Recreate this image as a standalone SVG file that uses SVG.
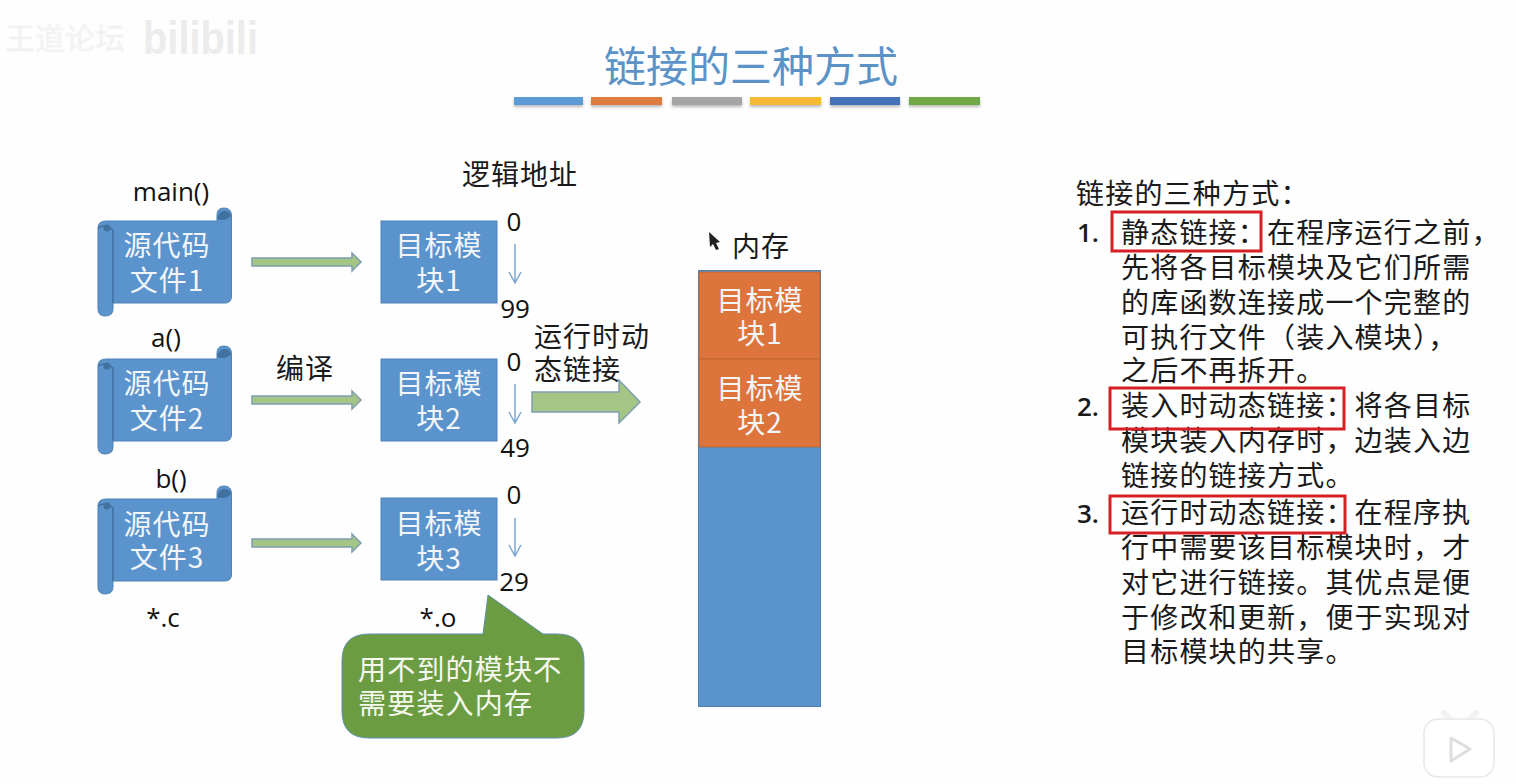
<svg xmlns="http://www.w3.org/2000/svg" xmlns:xlink="http://www.w3.org/1999/xlink" width="1516" height="784" viewBox="0 0 1516 784">
<style>
text{font-family:"Noto Sans CJK SC","Liberation Sans",sans-serif}
.b{font-size:28px;letter-spacing:1px;fill:#1a1a1a}
.w{font-size:28px;letter-spacing:1px;fill:#f2f6fa;text-anchor:middle}
.l{font-family:"Open Sans","Noto Sans CJK SC",sans-serif;font-size:26px;fill:#111;text-anchor:middle}
.r{font-size:28px;letter-spacing:1.200px;fill:#1a1a1a}
.n{font-family:"Open Sans",sans-serif;font-size:26px;font-weight:600;fill:#1a1a1a;text-anchor:middle}
.blue{fill:#5b93cc;stroke:#4d82b5;stroke-width:1}
.ga{fill:#a5c585;stroke:#7f9fb0;stroke-width:1.5}
.box{fill:none;stroke:#d81f26;stroke-width:3}
.thin{stroke:#7ba6d2;stroke-width:1.5;fill:none}
.bar{filter:url(#sh)}
</style>
<defs>
<filter id="sh" x="-10%" y="-50%" width="120%" height="220%"><feDropShadow dx="0" dy="2" stdDeviation="1.500" flood-color="#888" flood-opacity=".6"/></filter>
<g id="scroll">
<path class="blue" d="M98 228Q98 221 106 221H217V215Q217 208 224 208Q231.500 208 231.500 216V296Q231.500 303 225 303H113V309Q113 316 105 316Q98 316 98 309Z"/>
<path d="M217 219Q226 222 231 216Q230 211 224 211Q219 211 217 219Z" fill="#40719f"/>
<path d="M98 228Q106 223 113 230V303" fill="none" stroke="#40719f" stroke-width="1.5"/>
<circle cx="107" cy="228" r="3.500" fill="#40719f"/>
</g>
<path id="ga" class="ga" d="M0 -4H100V-9L109 0L100 9V4H0Z"/>
</defs>
<rect width="1516" height="784" fill="#fefefe"/>
<g id="watermark">
<text x="5" y="49" font-size="30" fill="#f0f0f0" stroke="#f6f6f6">王道论坛</text>
<text x="143" y="54" font-size="46" font-weight="700" fill="#ececec" textLength="115" lengthAdjust="spacingAndGlyphs" style="font-family:'Liberation Sans',sans-serif">bilibili</text>
</g>
<g id="title">
<text x="751" y="82" text-anchor="middle" font-size="42" fill="#5b93c8">链接的三种方式</text>
<rect class="bar" x="514" y="97" width="69" height="8" fill="#5b9bd5"/>
<rect class="bar" x="591" y="97" width="71" height="8" fill="#dd7b3c"/>
<rect class="bar" x="672" y="97" width="70" height="8" fill="#a5a5a5"/>
<rect class="bar" x="750" y="97" width="71" height="8" fill="#f5b935"/>
<rect class="bar" x="830" y="97" width="70" height="8" fill="#4472b8"/>
<rect class="bar" x="909" y="97" width="71" height="8" fill="#70a845"/>
</g>
<g id="connectors">
<use xlink:href="#ga" href="#ga" transform="translate(252,262)"/>
<use xlink:href="#ga" href="#ga" transform="translate(252,400)"/>
<use xlink:href="#ga" href="#ga" transform="translate(252,543)"/>
<path class="ga" d="M532 392H619V380L640 402L619 423V412H532Z"/>
<g id="addr-arrows">
<path class="thin" d="M515 244V283M509 272L515 283L521 272"/>
<path class="thin" d="M515 384V423M509 412L515 423L521 412"/>
<path class="thin" d="M515 518V556M509 545L515 556L521 545"/>
</g>
</g>
<g id="src1"><use xlink:href="#scroll" href="#scroll"/><text class="w" x="167" y="256">源代码</text><text class="w" x="167" y="291">文件1</text></g>
<g id="src2"><use xlink:href="#scroll" href="#scroll" y="138"/><text class="w" x="167" y="394">源代码</text><text class="w" x="167" y="429">文件2</text></g>
<g id="src3"><use xlink:href="#scroll" href="#scroll" y="278"/><text class="w" x="167" y="535">源代码</text><text class="w" x="167" y="568">文件3</text></g>
<g id="obj1"><rect class="blue" x="381" y="221" width="116" height="82"/><text class="w" x="439" y="256">目标模</text><text class="w" x="439" y="291">块1</text></g>
<g id="obj2"><rect class="blue" x="381" y="359" width="116" height="82"/><text class="w" x="439" y="394">目标模</text><text class="w" x="439" y="429">块2</text></g>
<g id="obj3"><rect class="blue" x="381" y="498" width="116" height="82"/><text class="w" x="439" y="534">目标模</text><text class="w" x="439" y="569">块3</text></g>
<g id="labels">
<text class="l" x="171" y="201">main()</text>
<text class="l" x="166" y="347">a()</text>
<text class="l" x="171" y="488">b()</text>
<text class="l" x="163" y="627">*.c</text>
<text class="l" x="438" y="627">*.o</text>
<text class="b" x="462" y="185">逻辑地址</text>
<text class="b" x="276" y="379">编译</text>
<text class="b" x="534" y="347">运行时动</text>
<text class="b" x="534" y="380">态链接</text>
<text class="b" x="732" y="257">内存</text>
<text class="l" x="514" y="231">0</text><text class="l" x="515" y="318">99</text>
<text class="l" x="514" y="371">0</text><text class="l" x="515" y="457">49</text>
<text class="l" x="514" y="504">0</text><text class="l" x="514" y="591">29</text>
</g>
<g id="cursor"><path d="M709 232L710 247L713 244L716 250L719 249L716 243L720 242Z" fill="#222"/></g>
<g id="memory">
<rect x="698.500" y="270.500" width="122" height="436" fill="#5b93cc" stroke="#4d82b5"/>
<rect x="699" y="272" width="121" height="87" fill="#dd743b" stroke="#b9622f" stroke-width=".8"/>
<rect x="699" y="359" width="121" height="88" fill="#dd743b" stroke="#b9622f" stroke-width=".8"/>
<text class="w" x="760" y="311">目标模</text><text class="w" x="760" y="344">块1</text>
<text class="w" x="760" y="399">目标模</text><text class="w" x="760" y="433">块2</text>
</g>
<g id="callout">
<path d="M369 634H483L488 595L543 634H557Q584 634 584 661V711Q584 738 557 738H369Q342 738 342 711V661Q342 634 369 634Z" fill="#6c9c42" stroke="#5f8fb0" stroke-width="1"/>
<text x="358" y="680" font-size="28" letter-spacing="1.200" fill="#f4f8ee">用不到的模块不</text>
<text x="358" y="714" font-size="28" letter-spacing="1.200" fill="#f4f8ee">需要装入内存</text>
</g>
<g id="notes">
<text class="r" x="1076" y="204">链接的三种方式：</text>
<text class="n" x="1088" y="242">1.</text>
<text class="r" x="1121" y="243">静态链接：在程序运行之前，</text>
<text class="r" x="1121" y="278">先将各目标模块及它们所需</text>
<text class="r" x="1121" y="313">的库函数连接成一个完整的</text>
<text class="r" x="1121" y="348">可执行文件（装入模块），</text>
<text class="r" x="1121" y="381">之后不再拆开。</text>
<text class="n" x="1088" y="416">2.</text>
<text class="r" x="1121" y="416">装入时动态链接：将各目标</text>
<text class="r" x="1121" y="451">模块装入内存时，边装入边</text>
<text class="r" x="1121" y="486">链接的链接方式。</text>
<text class="n" x="1088" y="523">3.</text>
<text class="r" x="1121" y="523">运行时动态链接：在程序执</text>
<text class="r" x="1121" y="558">行中需要该目标模块时，才</text>
<text class="r" x="1121" y="593">对它进行链接。其优点是便</text>
<text class="r" x="1121" y="628">于修改和更新，便于实现对</text>
<text class="r" x="1121" y="662">目标模块的共享。</text>
<rect class="box" x="1112" y="212" width="149" height="39"/>
<rect class="box" x="1110" y="388" width="234" height="41"/>
<rect class="box" x="1110" y="496" width="235" height="37"/>
</g>
<g id="playbtn">
<path d="M1444 713L1452 721M1476 713L1468 721" fill="none" stroke="#f2f2f2" stroke-width="6" stroke-linecap="round"/>
<rect x="1424" y="719" width="70" height="58" rx="14" fill="#fff" stroke="#e8e8e8" stroke-width="1.500"/>
<path d="M1451 738L1470 749L1451 761Z" fill="#fff" stroke="#dedede" stroke-width="3" stroke-linejoin="round"/>
</g>
</svg>
